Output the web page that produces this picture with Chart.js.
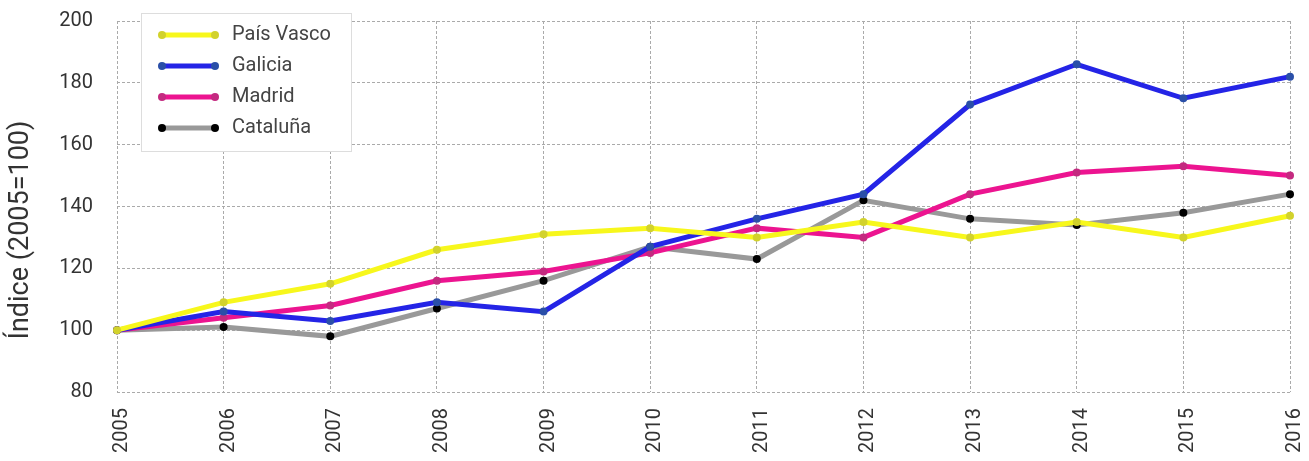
<!DOCTYPE html>
<html>
<head>
<meta charset="utf-8">
<script src="https://cdn.jsdelivr.net/npm/chart.js@4/dist/chart.umd.min.js"></script>
<style>
html,body{margin:0;padding:0;background:#fff;}
#wrap{width:1309px;height:461px;}
</style>
</head>
<body>
<div id="wrap"><canvas id="c" width="1309" height="461"></canvas></div>
<script>
const years = ['2005','2006','2007','2008','2009','2010','2011','2012','2013','2014','2015','2016'];
const paisVasco = [100,109,115,126,131,133,130,135,130,135,130,137];
const galicia   = [100,106,103,109,106,127,136,144,173,186,175,182];
const madrid    = [100,104,108,116,119,125,133,130,144,151,153,150];
const cataluna  = [100,101,98,107,116,127,123,142,136,134,138,144];
const seriesNames = ['País Vasco','Galicia','Madrid','Cataluña'];
const yTicks = [80,100,120,140,160,180,200];
const yTitle = 'Índice (2005=100)';

const lineColors = ['#f7f71c','#2424e6','#ec1490','#999999'];
const pointColors = ['#d2d22c','#2a4fa8','#c42a80','#000000'];

const FONT = 'Roboto, "Open Sans", sans-serif';

const titlePlugin = {
  id: 'yTitle',
  afterDraw(chart) {
    const ctx = chart.ctx;
    ctx.save();
    ctx.translate(21, 230);
    ctx.rotate(-Math.PI / 2);
    ctx.fillStyle = '#333333';
    ctx.font = '27px ' + FONT;
    ctx.textAlign = 'center';
    ctx.textBaseline = 'middle';
    ctx.fillText(yTitle, 0, 0);
    ctx.restore();
  }
};

const legendPlugin = {
  id: 'customLegend',
  afterDraw(chart) {
    const ctx = chart.ctx;
    const x0 = 141, y0 = 13, w = 210, h = 138;
    ctx.save();
    ctx.fillStyle = '#ffffff';
    ctx.fillRect(x0, y0, w, h);
    ctx.strokeStyle = '#dddddd';
    ctx.lineWidth = 1;
    ctx.strokeRect(x0 + 0.5, y0 + 0.5, w, h);
    chart.data.datasets.forEach((ds, i) => {
      const y = 35 + i * 31;
      ctx.strokeStyle = ds.borderColor;
      ctx.lineWidth = 5;
      ctx.beginPath();
      ctx.moveTo(162, y);
      ctx.lineTo(215, y);
      ctx.stroke();
      ctx.fillStyle = ds.pointBackgroundColor;
      [162, 215].forEach(px => {
        ctx.beginPath();
        ctx.arc(px, y, 4, 0, Math.PI * 2);
        ctx.fill();
      });
      ctx.fillStyle = '#444444';
      ctx.font = '20px ' + FONT;
      ctx.textBaseline = 'middle';
      ctx.textAlign = 'left';
      ctx.fillText(ds.label, 232, y);
    });
    ctx.restore();
  }
};

const allSeries = [paisVasco, galicia, madrid, cataluna];
const datasets = allSeries.map((d, i) => ({
  label: seriesNames[i],
  data: d,
  borderColor: lineColors[i],
  backgroundColor: lineColors[i],
  pointBackgroundColor: pointColors[i],
  pointBorderColor: pointColors[i],
  pointBorderWidth: 0,
  pointRadius: 4,
  borderWidth: 5,
  tension: 0,
  fill: false
}));

new Chart(document.getElementById('c'), {
  type: 'line',
  data: { labels: years, datasets: datasets },
  plugins: [legendPlugin, titlePlugin],
  options: {
    responsive: false,
    animation: false,
    devicePixelRatio: 1,
    layout: { padding: { top: 21, right: 19, bottom: 0, left: 0 } },
    plugins: { legend: { display: false }, tooltip: { enabled: false } },
    scales: {
      x: {
        offset: false,
        grid: { color: '#aaaaaa', lineWidth: 1, drawTicks: false },
        border: { display: false, dash: [3,2] },
        ticks: { color: '#333333', font: { family: FONT, size: 20 }, minRotation: 90, maxRotation: 90, padding: 16, labelOffset: 5, autoSkip: false },
        afterFit(scale) { scale.paddingLeft = 0; scale.paddingRight = 0; scale.height = 69; }
      },
      y: {
        min: 80, max: 200,
        afterBuildTicks(scale) { scale.ticks = yTicks.map(v => ({ value: v })); },
        grid: { color: '#aaaaaa', lineWidth: 1, drawTicks: false },
        border: { display: false, dash: [3,2] },
        ticks: { color: '#333333', font: { family: FONT, size: 20 }, padding: 24 },
        afterFit(scale) { scale.width = 117; scale.paddingTop = 0; scale.paddingBottom = 0; }
      }
    }
  }
});
</script>
</body>
</html>
